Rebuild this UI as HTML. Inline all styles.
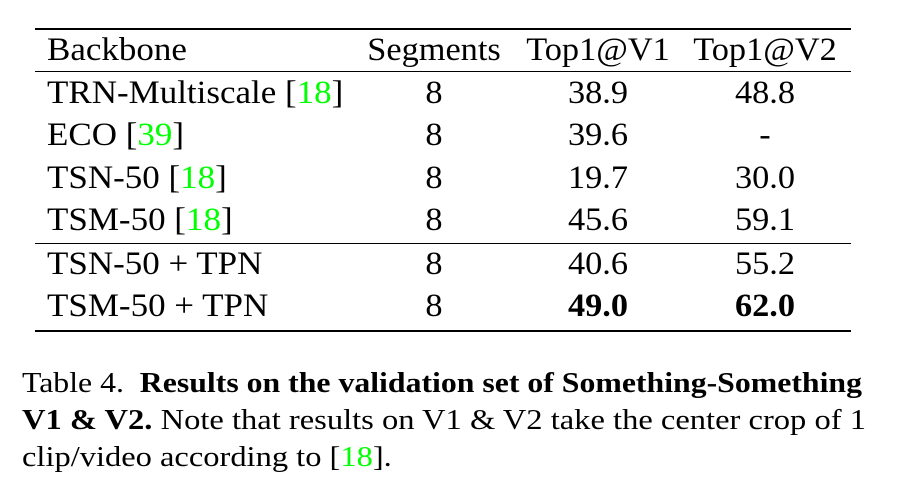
<!DOCTYPE html>
<html><head><meta charset="utf-8"><style>
body{margin:0;width:909px;height:491px;background:#fff;position:relative;overflow:hidden;font-family:"Liberation Serif",serif;color:#000}
.t{position:absolute;font-size:33px;line-height:1;white-space:nowrap;transform-origin:left top;transform:scaleX(1.06)}
.c{transform:translateX(-50%) scaleX(1.04);transform-origin:center top}
.g{color:#00ff00}
.r{position:absolute;left:35px;width:816px;background:#000}
.cap{position:absolute;left:22px;font-size:28px;white-space:nowrap;line-height:1;transform-origin:left top;transform:scaleX(1.135)}
</style></head><body>
<div class="r" style="top:28px;height:2px"></div>
<div class="r" style="top:71px;height:1px"></div>
<div class="r" style="top:243px;height:1px"></div>
<div class="r" style="top:330px;height:2px"></div>
<div id="tbl"></div>
<div class="cap" style="top:370px">Table 4. &nbsp;<b>Results on the validation set of Something-Something</b></div>
<div class="cap" style="top:407px;transform:scaleX(1.162)"><b>V1 &amp; V2.</b> Note that results on V1 &amp; V2 take the center crop of 1</div>
<div class="cap" style="top:444px;transform:scaleX(1.16)">clip/video according to [<span class="g">18</span>].</div>
<script>
const headers=["Backbone","Segments","Top1@V1","Top1@V2"];
const names=["TRN-Multiscale [<span class='g'>18</span>]","ECO [<span class='g'>39</span>]","TSN-50 [<span class='g'>18</span>]","TSM-50 [<span class='g'>18</span>]","TSN-50 + TPN","TSM-50 + TPN"];
const segs=["8","8","8","8","8","8"];
const v1=["38.9","39.6","19.7","45.6","40.6","<b>49.0</b>"];
const v2=["48.8","-","30.0","59.1","55.2","<b>62.0</b>"];
const tops=[34,77,119,162,204,248,290];
const colX=[47,434,598,765];
const tbl=document.getElementById('tbl');
function cell(html,row,col,name){
  const d=document.createElement('div');
  d.className='t'+(col>0?' c':'');
  d.style.top=tops[row]+'px';
  d.style.left=colX[col]+'px';
  d.innerHTML=html;
  
  
  tbl.appendChild(d);
}
headers.forEach((h,i)=>cell(h,0,i,'header-cell'));
names.forEach((n,i)=>{
  cell(n,i+1,0,'backbone-cell');
  cell(segs[i],i+1,1,'segments-cell');
  cell(v1[i],i+1,2,'top1-v1-cell');
  cell(v2[i],i+1,3,'top1-v2-cell');
});
</script>
</body></html>
